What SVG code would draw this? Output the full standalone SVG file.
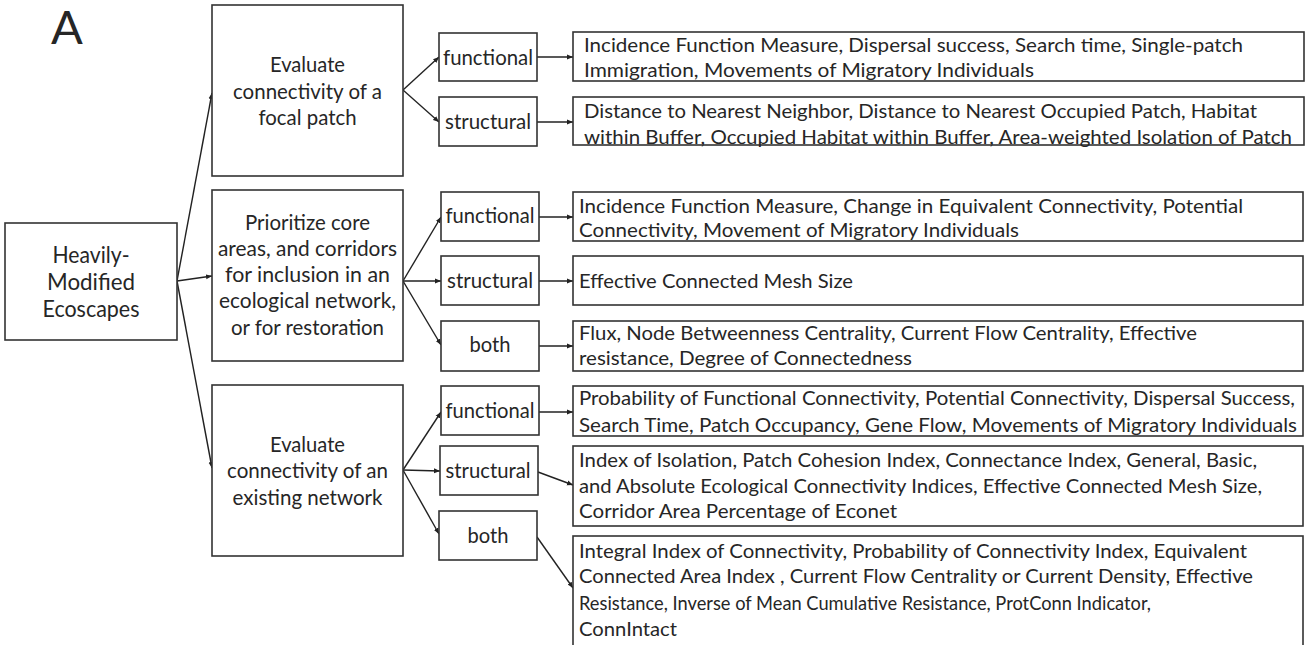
<svg xmlns="http://www.w3.org/2000/svg" width="1312" height="645" viewBox="0 0 1312 645">
<defs>
<style>
text{font-family:Lato,"Liberation Sans",Arial,sans-serif;fill:#262626}
.box{fill:#fff;stroke:#333;stroke-width:1.6}
.d{font-size:20px}
.lb{font-size:21px;text-anchor:middle}
.m{font-size:20.5px;text-anchor:middle}
.h{font-size:23px;text-anchor:middle}
.c{stroke:#222;stroke-width:1.4;fill:none;marker-end:url(#ah)}
</style>
<marker id="ah" markerUnits="userSpaceOnUse" markerWidth="7" markerHeight="6" refX="6" refY="3" orient="auto">
<path d="M0,0.5 L6,3 L0,5.5 Z" fill="#222"/>
</marker>
</defs>
<rect width="1312" height="645" fill="#fff"/>
<text x="51" y="44" font-size="47">A</text>

<g id="connectors">
<line class="c" x1="177" y1="281" x2="212" y2="93"/>
<line class="c" x1="177" y1="281" x2="212" y2="276"/>
<line class="c" x1="177" y1="281" x2="212" y2="468"/>
<line class="c" x1="403" y1="90" x2="439" y2="57"/>
<line class="c" x1="403" y1="90" x2="439" y2="122"/>
<line class="c" x1="403" y1="281" x2="441" y2="217"/>
<line class="c" x1="403" y1="281" x2="441" y2="281"/>
<line class="c" x1="403" y1="281" x2="441" y2="345"/>
<line class="c" x1="403" y1="470" x2="441" y2="412"/>
<line class="c" x1="403" y1="470" x2="440" y2="471"/>
<line class="c" x1="403" y1="470" x2="439" y2="534"/>
<line class="c" x1="537" y1="57" x2="573" y2="57"/>
<line class="c" x1="537" y1="122" x2="573" y2="122"/>
<line class="c" x1="539" y1="217" x2="573" y2="217"/>
<line class="c" x1="539" y1="281" x2="573" y2="281"/>
<line class="c" x1="539" y1="346" x2="573" y2="346"/>
<line class="c" x1="539" y1="412" x2="573" y2="412"/>
<line class="c" x1="538" y1="472" x2="573" y2="485"/>
<line class="c" x1="537" y1="537" x2="573" y2="588"/>
</g>

<g id="root">
<rect class="box" x="5" y="223" width="172" height="117"/>
<text class="h" x="91" y="263" textLength="77" lengthAdjust="spacingAndGlyphs">Heavily-</text>
<text class="h" x="91" y="290" textLength="88" lengthAdjust="spacingAndGlyphs">Modified</text>
<text class="h" x="91" y="317" textLength="97" lengthAdjust="spacingAndGlyphs">Ecoscapes</text>
</g>

<g id="goal1">
<rect class="box" x="212" y="5" width="191" height="171"/>
<text class="m" x="307.5" y="72" textLength="75" lengthAdjust="spacingAndGlyphs">Evaluate</text>
<text class="m" x="307.5" y="99" textLength="149" lengthAdjust="spacingAndGlyphs">connectivity of a</text>
<text class="m" x="307.5" y="125" textLength="98" lengthAdjust="spacingAndGlyphs">focal patch</text>
</g>

<g id="goal2">
<rect class="box" x="212" y="190" width="191" height="171"/>
<text class="m" x="307.5" y="230" textLength="125" lengthAdjust="spacingAndGlyphs">Prioritize core</text>
<text class="m" x="307.5" y="256" textLength="179" lengthAdjust="spacingAndGlyphs">areas, and corridors</text>
<text class="m" x="307.5" y="282" textLength="165" lengthAdjust="spacingAndGlyphs">for inclusion in an</text>
<text class="m" x="307.5" y="308" textLength="177" lengthAdjust="spacingAndGlyphs">ecological network,</text>
<text class="m" x="307.5" y="335" textLength="153" lengthAdjust="spacingAndGlyphs">or for restoration</text>
</g>

<g id="goal3">
<rect class="box" x="212" y="385" width="191" height="171"/>
<text class="m" x="307.5" y="452" textLength="75" lengthAdjust="spacingAndGlyphs">Evaluate</text>
<text class="m" x="307.5" y="478" textLength="161" lengthAdjust="spacingAndGlyphs">connectivity of an</text>
<text class="m" x="307.5" y="505" textLength="150" lengthAdjust="spacingAndGlyphs">existing network</text>
</g>

<g id="g1-functional">
<rect class="box" x="439" y="33" width="98" height="48"/>
<text class="lb" x="488" y="65" textLength="90" lengthAdjust="spacingAndGlyphs">functional</text>
</g>
<g id="g1-structural">
<rect class="box" x="439" y="97" width="98" height="49"/>
<text class="lb" x="488" y="129" textLength="86" lengthAdjust="spacingAndGlyphs">structural</text>
</g>
<g id="g2-functional">
<rect class="box" x="441" y="192" width="98" height="49"/>
<text class="lb" x="490" y="223" textLength="89" lengthAdjust="spacingAndGlyphs">functional</text>
</g>
<g id="g2-structural">
<rect class="box" x="441" y="256" width="98" height="49"/>
<text class="lb" x="490" y="288" textLength="86" lengthAdjust="spacingAndGlyphs">structural</text>
</g>
<g id="g2-both">
<rect class="box" x="441" y="321" width="98" height="50"/>
<text class="lb" x="490" y="352" textLength="41" lengthAdjust="spacingAndGlyphs">both</text>
</g>
<g id="g3-functional">
<rect class="box" x="441" y="386" width="98" height="49"/>
<text class="lb" x="490" y="418" textLength="89" lengthAdjust="spacingAndGlyphs">functional</text>
</g>
<g id="g3-structural">
<rect class="box" x="440" y="446" width="98" height="49"/>
<text class="lb" x="488" y="478" textLength="85" lengthAdjust="spacingAndGlyphs">structural</text>
</g>
<g id="g3-both">
<rect class="box" x="439" y="511" width="98" height="49"/>
<text class="lb" x="488" y="543" textLength="41" lengthAdjust="spacingAndGlyphs">both</text>
</g>

<g id="g1-functional-metrics">
<rect class="box" x="573" y="32" width="731" height="49"/>
<text class="d" x="584" y="52" textLength="659" lengthAdjust="spacingAndGlyphs">Incidence Function Measure, Dispersal success, Search time, Single-patch</text>
<text class="d" x="584" y="77" textLength="450" lengthAdjust="spacingAndGlyphs">Immigration, Movements of Migratory Individuals</text>
</g>
<g id="g1-structural-metrics">
<rect class="box" x="573" y="97" width="731" height="48"/>
<text class="d" x="584" y="118" textLength="673" lengthAdjust="spacingAndGlyphs">Distance to Nearest Neighbor, Distance to Nearest Occupied Patch, Habitat</text>
<text class="d" x="584" y="144" textLength="708" lengthAdjust="spacingAndGlyphs">within Buffer, Occupied Habitat within Buffer, Area-weighted Isolation of Patch</text>
</g>
<g id="g2-functional-metrics">
<rect class="box" x="573" y="192" width="730" height="49"/>
<text class="d" x="579" y="213" textLength="664" lengthAdjust="spacingAndGlyphs">Incidence Function Measure, Change in Equivalent Connectivity, Potential</text>
<text class="d" x="579" y="237" textLength="440" lengthAdjust="spacingAndGlyphs">Connectivity, Movement of Migratory Individuals</text>
</g>
<g id="g2-structural-metrics">
<rect class="box" x="573" y="256" width="730" height="49"/>
<text class="d" x="579" y="288" textLength="274" lengthAdjust="spacingAndGlyphs">Effective Connected Mesh Size</text>
</g>
<g id="g2-both-metrics">
<rect class="box" x="573" y="321" width="730" height="50"/>
<text class="d" x="579" y="340" textLength="618" lengthAdjust="spacingAndGlyphs">Flux, Node Betweenness Centrality, Current Flow Centrality, Effective</text>
<text class="d" x="579" y="365" textLength="333" lengthAdjust="spacingAndGlyphs">resistance, Degree of Connectedness</text>
</g>
<g id="g3-functional-metrics">
<rect class="box" x="573" y="386" width="730" height="50"/>
<text class="d" x="579" y="405" textLength="716" lengthAdjust="spacingAndGlyphs">Probability of Functional Connectivity, Potential Connectivity, Dispersal Success,</text>
<text class="d" x="579" y="432" textLength="718" lengthAdjust="spacingAndGlyphs">Search Time, Patch Occupancy, Gene Flow, Movements of Migratory Individuals</text>
</g>
<g id="g3-structural-metrics">
<rect class="box" x="573" y="446" width="730" height="80"/>
<text class="d" x="579" y="467" textLength="678" lengthAdjust="spacingAndGlyphs">Index of Isolation, Patch Cohesion Index, Connectance Index, General, Basic,</text>
<text class="d" x="579" y="493" textLength="683" lengthAdjust="spacingAndGlyphs">and Absolute Ecological Connectivity Indices, Effective Connected Mesh Size,</text>
<text class="d" x="579" y="518" textLength="318" lengthAdjust="spacingAndGlyphs">Corridor Area Percentage of Econet</text>
</g>
<g id="g3-both-metrics">
<rect class="box" x="573" y="536" width="730" height="130"/>
<text class="d" x="579" y="558" textLength="668" lengthAdjust="spacingAndGlyphs">Integral Index of Connectivity, Probability of Connectivity Index, Equivalent</text>
<text class="d" x="579" y="583" textLength="674" lengthAdjust="spacingAndGlyphs">Connected Area Index , Current Flow Centrality or Current Density, Effective</text>
<text class="d" x="579" y="610" textLength="572" lengthAdjust="spacingAndGlyphs">Resistance, Inverse of Mean Cumulative Resistance, ProtConn Indicator,</text>
<text class="d" x="579" y="636" textLength="98" lengthAdjust="spacingAndGlyphs">ConnIntact</text>
</g>
</svg>
